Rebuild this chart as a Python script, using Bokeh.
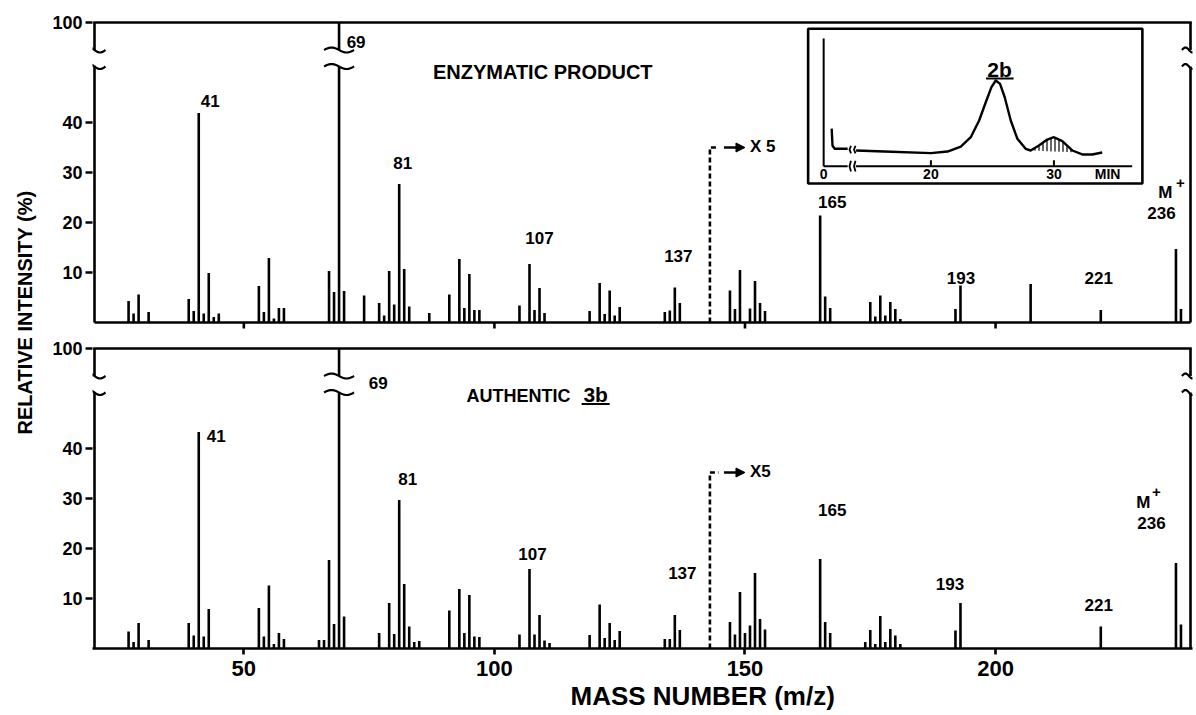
import numpy as np
from bokeh.plotting import figure
from bokeh.models import Range1d, FixedTicker, Arrow, NormalHead, Title
from bokeh.core.properties import value
from bokeh.embed import file_html
from bokeh.resources import INLINE

FONT = "Liberation Sans"

# ---------------- data ----------------
# upper panel: enzymatic product
enz_mz = [27, 28, 29, 31, 39, 40, 41, 42, 43, 44, 45, 53, 54, 55, 56, 57, 58,
          67, 68, 69, 70, 74, 77, 78, 79, 80, 81, 82, 83, 87, 91, 93, 94, 95,
          96, 97, 105, 107, 108, 109, 110, 119, 121, 122, 123, 124, 125, 134,
          135, 136, 137, 147, 148, 149, 151, 152, 153, 154, 165, 166, 167, 175,
          176, 177, 178, 179, 180, 181, 192, 193, 207, 221, 236, 237]
enz_int = [4.3, 1.8, 5.6, 2.1, 4.7, 2.3, 41.9, 1.8, 9.9, 1.1, 1.8, 7.3, 2.1,
           12.9, 0.8, 2.9, 2.9, 10.3, 6.1, 100, 6.3, 5.4, 3.9, 1.4, 10.3, 3.6,
           27.7, 10.7, 3.2, 1.9, 5.6, 12.7, 2.9, 9.7, 2.5, 2.5, 3.4, 11.7, 2.5,
           6.9, 1.9, 2.3, 7.9, 1.7, 6.4, 1.4, 3.1, 2.1, 2.4, 7.0, 3.9, 6.4, 2.7,
           10.5, 2.8, 8.3, 3.9, 2.3, 21.4, 5.2, 2.9, 4.1, 1.2, 5.4, 1.4, 4.1,
           2.7, 0.7, 2.7, 7.4, 7.7, 2.5, 14.7, 2.7]

# lower panel: authentic 3b
auth_mz = [27, 28, 29, 31, 39, 40, 41, 42, 43, 53, 54, 55, 56, 57, 58, 65, 66,
           67, 68, 69, 70, 77, 79, 80, 81, 82, 83, 84, 85, 91, 93, 94, 95, 96,
           97, 105, 107, 108, 109, 110, 111, 119, 121, 122, 123, 124, 125, 134,
           135, 136, 137, 147, 148, 149, 150, 151, 152, 153, 154, 165, 166, 167,
           174, 175, 176, 177, 178, 179, 180, 181, 192, 193, 221, 236, 237]
auth_int = [3.4, 1.3, 5.1, 1.7, 5.1, 2.6, 43.3, 2.4, 7.9, 8.1, 2.4, 12.6, 0.9,
            3.1, 1.9, 1.7, 1.7, 17.7, 4.9, 100, 6.4, 3.1, 9.1, 2.9, 29.7, 12.9,
            4.4, 1.3, 1.5, 7.6, 11.9, 3.1, 10.7, 2.4, 2.3, 2.8, 15.9, 2.8, 6.7,
            1.6, 1.1, 2.7, 8.8, 2.1, 5.1, 1.7, 3.5, 1.9, 1.9, 6.7, 3.7, 5.3, 2.8,
            11.3, 3.1, 4.6, 15.1, 5.9, 3.8, 17.9, 5.3, 3.1, 1.3, 3.7, 0.9, 6.5,
            1.3, 3.9, 2.6, 0.9, 3.6, 9.1, 4.4, 17.1, 4.8]

peak_labels = ["41", "69", "81", "107", "137", "165", "193", "221", "236"]
x_tick_values = [50, 100, 150, 200]
y_tick_values = [10, 20, 30, 40]
full_scale_label = "100"
x5_mz = 143            # start of the x5 magnified region
x5_text = ["X 5", "X5"]

# inset gas chromatogram (time in min, signal in % of inset height)
chrom_pre_t = [0.65, 0.72, 0.9, 1.95]
chrom_pre_s = [29.4, 16.0, 13.7, 13.7]
chrom_t = [13.92, 16.21, 20.0, 21.35, 22.43, 23.24, 23.92, 24.46, 24.92,
           25.27, 25.62, 26.0, 26.49, 27.03, 27.7, 28.11, 28.78, 29.46, 30.0,
           30.68, 31.49, 32.3, 33.11, 33.92]
chrom_s = [12.3, 11.5, 10.2, 11.5, 15.4, 22.7, 35.8, 50.1, 61.9, 67.1, 64.5,
           54.0, 35.8, 21.5, 13.6, 12.3, 16.2, 20.9, 22.7, 19.6, 12.3, 9.2,
           9.2, 10.7]
hatch_t_range = [28.11, 31.49]
hatch_base_s = [12.3, 11.0]
inset_tick_min = [20, 30]
inset_tick_labels = ["20", "30"]

# ---------------- layout / style constants ----------------
X_LEFT, X_RIGHT = 20.2, 238.9
BASE_AUTH, BASE_ENZ = 0.0, 65.2
TOP = 60.0                 # height of the 100 % line
BRK_LO, BRK_HI = 51.2, 54.5
LW = 2.6

p = figure(width=1196, height=715, x_range=Range1d(19.8, 239.3),
           y_range=Range1d(0, 126), output_backend="svg",
           toolbar_location=None, min_border_left=90, min_border_right=4,
           min_border_top=18, min_border_bottom=67)
p.title.visible = False
p.grid.visible = False
p.outline_line_color = None
p.background_fill_color = "white"

# x axis (lower panel baseline)
xa = p.xaxis[0]
xa.ticker = FixedTicker(ticks=x_tick_values)
xa.axis_line_width = LW
xa.major_tick_line_width = LW
xa.major_tick_out = 6
xa.major_tick_in = 0
xa.minor_tick_out = 0
xa.minor_tick_in = 0
xa.major_label_standoff = 6
xa.major_label_text_font = FONT
xa.major_label_text_font_size = "22px"
xa.major_label_text_font_style = "bold"
xa.major_label_text_color = "black"

# y axis: two panels with 10..40 and the broken 100 % line
ytick_pos, ytick_over = [], {}
for base in (BASE_AUTH, BASE_ENZ):
    for v in y_tick_values:
        pos = round(base + v, 3)
        ytick_pos.append(pos)
        ytick_over[pos] = str(v)
    pos = round(base + TOP, 3)
    ytick_pos.append(pos)
    ytick_over[pos] = full_scale_label
ya = p.yaxis[0]
ya.ticker = FixedTicker(ticks=ytick_pos)
ya.major_label_overrides = ytick_over
ya.axis_line_color = None
ya.major_tick_line_width = LW
ya.major_tick_out = 7
ya.major_tick_in = 0
ya.minor_tick_out = 0
ya.minor_tick_in = 0
ya.major_label_standoff = 3
ya.major_label_text_font = FONT
ya.major_label_text_font_size = "18px"
ya.major_label_text_font_style = "bold"
ya.major_label_text_color = "black"

# axis titles
p.add_layout(Title(text="RELATIVE INTENSITY (%)", align="left", offset=214,
                   standoff=25, vertical_align="middle", text_font=FONT,
                   text_font_size="20px", text_font_style="bold",
                   text_color="black"), "left")
p.add_layout(Title(text="MASS NUMBER  (m/z)", align="left", offset=478,
                   standoff=0, text_font=FONT, text_font_size="26px",
                   text_font_style="bold", text_color="black"), "below")


def squiggle(xc, yc, w, amp=0.5):
    u = np.linspace(-0.5, 0.5, 25)
    return xc + u * w, yc - amp * np.sin(2 * np.pi * u)


def draw_breaks(xc, base, w):
    for yb in (BRK_LO, BRK_HI):
        xs, ys = squiggle(xc, base + yb, w)
        p.line(xs, ys, line_width=2.2, color="black")


def draw_frame(base, with_baseline):
    for xv in (X_LEFT, X_RIGHT):
        p.segment(x0=[xv, xv], y0=[base, base + BRK_HI], x1=[xv, xv],
                  y1=[base + BRK_LO, base + TOP], line_width=LW, color="black")
    p.line([X_LEFT - 0.25, X_RIGHT + 0.25], [base + TOP] * 2, line_width=LW,
           color="black")
    if with_baseline:
        p.line([X_LEFT, X_RIGHT], [base, base], line_width=LW, color="black")
        p.segment(x0=x_tick_values, y0=[base] * 4, x1=x_tick_values,
                  y1=[base - 1.2] * 4, line_width=LW, color="black")
    draw_breaks(X_LEFT, base, 4.4)
    draw_breaks(X_RIGHT - 0.3, base, 2.8)


def draw_spectrum(mz, inten, base):
    mz = np.asarray(mz, float)
    inten = np.asarray(inten, float)
    full = inten > 50
    shown = np.where(full, BRK_LO, inten)
    p.segment(x0=mz, y0=base, x1=mz, y1=base + shown, line_width=LW,
              color="black", line_cap="butt")
    if full.any():
        p.segment(x0=mz[full], y0=base + BRK_HI, x1=mz[full],
                  y1=base + TOP, line_width=LW, color="black", line_cap="butt")
        for m in mz[full]:
            draw_breaks(m, base, 6.0)


def draw_x5(base, top, text):
    p.line([x5_mz, x5_mz, x5_mz + 1.7], [base, base + top, base + top],
           line_width=LW, line_dash="5 3", color="black")
    p.add_layout(Arrow(x_start=x5_mz + 2.8, y_start=base + top,
                       x_end=x5_mz + 7.0, y_end=base + top, line_width=LW,
                       end=NormalHead(size=9, fill_color="black",
                                      line_color="black")))
    p.text(x=[x5_mz + 8.0], y=[base + top + 0.2], text=[text],
           text_font=value(FONT), text_font_style="bold",
           text_font_size="17px", text_align="left", text_baseline="middle")


def txt(xs, ys, texts, size, align="center"):
    p.text(x=xs, y=ys, text=texts, text_font=value(FONT),
           text_font_style="bold", text_font_size=size, text_align=align,
           text_baseline="middle", text_color="black")


# panels
draw_frame(BASE_AUTH, False)
draw_frame(BASE_ENZ, True)
draw_spectrum(auth_mz, auth_int, BASE_AUTH)
draw_spectrum(enz_mz, enz_int, BASE_ENZ)
draw_x5(BASE_ENZ, 35.0, x5_text[0])
draw_x5(BASE_AUTH, 35.2, x5_text[1])

# peak labels (x in m/z, y in panel units)
enz_lab_x = [43.3, 72.4, 81.7, 109.0, 136.7, 167.4, 193.1, 220.6, 233.1]
enz_lab_y = [44.4, 56.2, 32.0, 17.0, 13.4, 24.2, 9.0, 9.0, 22.0]
auth_lab_x = [44.5, 76.8, 82.7, 107.6, 137.5, 167.4, 190.9, 220.6, 231.1]
auth_lab_y = [42.6, 53.2, 34.0, 19.0, 15.2, 27.8, 13.0, 8.8, 25.2]
txt(enz_lab_x, [BASE_ENZ + v for v in enz_lab_y], peak_labels, "17px")
txt(auth_lab_x, [BASE_AUTH + v for v in auth_lab_y], peak_labels, "17px")
txt([233.9, 229.5], [BASE_ENZ + 26.0, BASE_AUTH + 29.2], ["M", "M"], "17px")
txt([236.9, 232.1], [BASE_ENZ + 28.0, BASE_AUTH + 31.4], ["+", "+"], "15px")

# panel titles
txt([110.2], [BASE_ENZ + 50.2], ["ENZYMATIC  PRODUCT"], "20px")
txt([104.8], [BASE_AUTH + 50.6], ["AUTHENTIC"], "18px")
txt([120.2], [BASE_AUTH + 50.8], ["3b"], "21px")
p.line([117.4, 123.0], [BASE_AUTH + 48.9] * 2, line_width=2.0, color="black")


# ---------------- inset chromatogram ----------------
def ix(t):
    return 187.1 + (np.asarray(t, float) - 20.0) * 2.455


def ix_pre(t):
    return 165.7 + np.asarray(t, float) * 2.455


def iy(s):
    return BASE_ENZ + 31.26 + np.asarray(s, float) * 0.2554


p.quad(left=162.6, right=229.3, bottom=BASE_ENZ + 27.8, top=BASE_ENZ + 58.74,
       fill_color="white", line_color="black", line_width=LW)
x0 = float(ix_pre(0))
p.line([x0, x0], [float(iy(0)), float(iy(100))], line_width=2.0, color="black")
p.line([x0, float(ix_pre(1.95))], [float(iy(0))] * 2, line_width=2.0,
       color="black")
p.line([float(ix(13.9)), float(ix(36.36))], [float(iy(0))] * 2,
       line_width=2.0, color="black")
# axis breaks of the time axis and of the trace
for yc, h in ((0.0, 4.2), (13.0, 3.0)):
    for xb in (float(ix_pre(2.1)), float(ix(13.75))):
        p.line([xb + 0.3, xb, xb + 0.3],
               [float(iy(yc - h)), float(iy(yc)), float(iy(yc + h))],
               line_width=1.8, color="black")
p.segment(x0=ix(inset_tick_min), y0=[float(iy(0))] * 2, x1=ix(inset_tick_min),
          y1=[float(iy(0)) + 1.2] * 2, line_width=2.0, color="black")
ty = float(iy(0)) - 1.5
txt([x0], [ty], ["0"], "14px")
txt(list(ix(inset_tick_min)), [ty, ty], inset_tick_labels, "14px")
txt([222.35], [ty], ["MIN"], "14px")

# hatched minor peak
ct = np.asarray(chrom_t)
cs = np.asarray(chrom_s)
sel = (ct >= hatch_t_range[0]) & (ct <= hatch_t_range[1])
hb = np.interp(ct[sel], hatch_t_range, hatch_base_s)
p.varea(x=ix(ct[sel]), y1=iy(hb), y2=iy(cs[sel]), fill_color=None,
        hatch_pattern="|", hatch_scale=4, hatch_weight=1.2,
        hatch_color="black")

p.line(ix_pre(chrom_pre_t), iy(chrom_pre_s), line_width=2.4, color="black",
       line_join="round")
p.line(ix(chrom_t), iy(chrom_s), line_width=2.4, color="black",
       line_join="round")
txt([200.8], [BASE_ENZ + 50.6], ["2b"], "21px")
p.line([198.1, 203.6], [BASE_ENZ + 48.8] * 2, line_width=2.0, color="black")

open("out.html", "w").write(file_html(p, INLINE))
